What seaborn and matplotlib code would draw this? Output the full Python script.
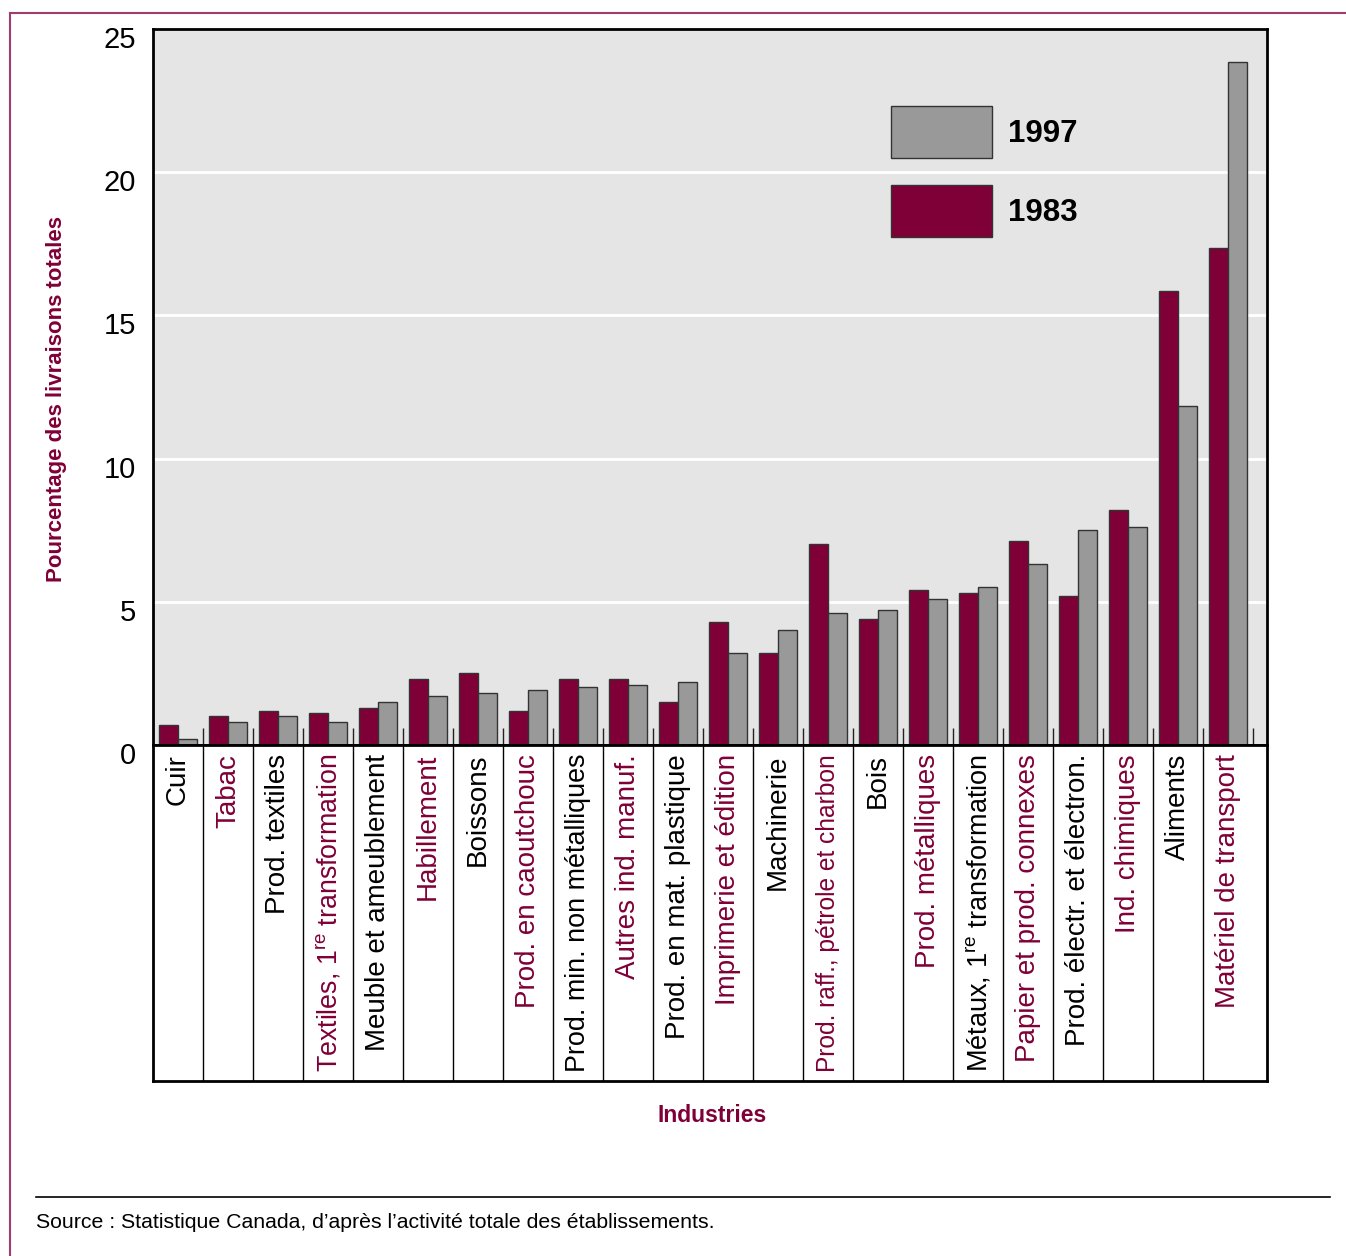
import seaborn as sns
import pandas as pd
import matplotlib.pyplot as plt
from matplotlib.lines import Line2D
from matplotlib.transforms import ScaledTranslation

plt.rcParams['font.family'] = ['Liberation Sans', 'DejaVu Sans']
plt.rcParams['mathtext.default'] = 'regular'

industries = ["Cuir", "Tabac", "Prod. textiles", "Textiles, 1$^{re}$ transformation",
              "Meuble et ameublement", "Habillement", "Boissons", "Prod. en caoutchouc",
              "Prod. min. non métalliques", "Autres ind. manuf.", "Prod. en mat. plastique",
              "Imprimerie et édition", "Machinerie", "Prod. raff., pétrole et charbon", "Bois",
              "Prod. métalliques", "Métaux, 1$^{re}$ transformation", "Papier et prod. connexes",
              "Prod. électr. et électron.", "Ind. chimiques", "Aliments", "Matériel de transport"]
v1983 = [0.70, 1.01, 1.19, 1.12, 1.29, 2.31, 2.52, 1.19, 2.31, 2.31, 1.50,
         4.30, 3.22, 7.03, 4.41, 5.42, 5.31, 7.13, 5.21, 8.22, 15.84, 17.34]
v1997 = [0.21, 0.80, 1.01, 0.80, 1.50, 1.71, 1.82, 1.92, 2.03, 2.10, 2.20,
         3.22, 4.02, 4.62, 4.72, 5.10, 5.52, 6.33, 7.52, 7.62, 11.82, 23.85]
years = ["1983", "1997"]

maroon = "#7F0037"
grey = "#999999"

df = pd.DataFrame({"industrie": industries * 2,
                   "annee": ["1983"] * len(industries) + ["1997"] * len(industries),
                   "pct": v1983 + v1997})

W, H = 1346, 1256
fig = plt.figure(figsize=(W / 100, H / 100), dpi=100)

left = 153 / W
width = (1267 - 153) / W
ax = fig.add_axes([left, 1 - 745 / H, width, (745 - 29) / H])
ax.set_facecolor("#E5E5E5")

sns.barplot(data=df, x="industrie", y="pct", hue="annee", hue_order=years, order=industries,
            palette=[maroon, grey], width=0.76, edgecolor="#333333", linewidth=1,
            saturation=1, ax=ax)

ax.set_xlim(-0.5, 21.78)
ax.set_ylim(0, 25)
ax.set_yticks([0, 5, 10, 15, 20, 25])
ax.yaxis.grid(True, color="white", lw=2)
ax.set_axisbelow(True)
ax.set_xticks([k + 0.5 for k in range(22)])
ax.set_xticklabels([])
ax.tick_params(axis="x", direction="in", length=12, width=1, color="#222222")
ax.tick_params(axis="y", length=0, pad=12, labelsize=21)
for lab in ax.get_yticklabels():
    lab.set_transform(lab.get_transform() + ScaledTranslation(0, -8 / 100, fig.dpi_scale_trans))
ax.set_xlabel("")
ax.set_ylabel("")
for s in ax.spines.values():
    s.set_linewidth(2)
    s.set_color("black")

handles, labels = ax.get_legend_handles_labels()
ax.legend(handles[::-1], labels[::-1], loc="upper left",
          bbox_to_anchor=((891 - 153) / 1114, (745 - 106) / 716),
          frameon=False, borderpad=0, borderaxespad=0,
          handlelength=3.23, handleheight=2.18, labelspacing=0.88, handletextpad=0.5,
          prop={"weight": "bold", "size": 22.5})

# label box under the bars
ax2 = fig.add_axes([left, 1 - 1081 / H, width, (1081 - 745) / H])
ax2.set_xlim(-0.5, 21.78)
ax2.set_ylim(0, 1)
ax2.set_xticks([])
ax2.set_yticks([])
for s in ax2.spines.values():
    s.set_linewidth(2)
for k in range(21):
    ax2.axvline(k + 0.5, color="black", lw=1)
cat_texts = []
for i, lab in enumerate(industries):
    t = ax2.text(i, 1 - 9 / 336, lab, rotation=90, ha="center", va="top", fontsize=20,
                 color=maroon if i % 2 else "black")
    cat_texts.append(t)

fig.text(57 / W, 1 - 399 / H, "Pourcentage des livraisons totales", rotation=90,
         ha="center", va="center", color=maroon, fontsize=16, fontweight="bold")
fig.text(712 / W, 1 - 1115 / H, "Industries", ha="center", va="center", color=maroon,
         fontsize=16.5, fontweight="bold")

fig.add_artist(Line2D([36 / W, 1330 / W], [1 - 1197 / H] * 2, color="black", lw=1.2))
fig.text(36 / W, 1 - 1222 / H, "Source : Statistique Canada, d’après l’activité totale des établissements.",
         ha="left", va="center", fontsize=15.3)

border = "#9E3D6E"
fig.add_artist(Line2D([10 / W, 1], [1 - 13 / H] * 2, color=border, lw=1.5))
fig.add_artist(Line2D([10 / W] * 2, [0, 1 - 13 / H], color=border, lw=1.5))

# squeeze the longest labels so they stay inside their box
fig.canvas.draw()
renderer = fig.canvas.get_renderer()
for t in cat_texts:
    h = t.get_window_extent(renderer).height
    if h > 318:
        t.set_fontsize(t.get_fontsize() * 318 / h)

fig.savefig("out.png", dpi=100)
